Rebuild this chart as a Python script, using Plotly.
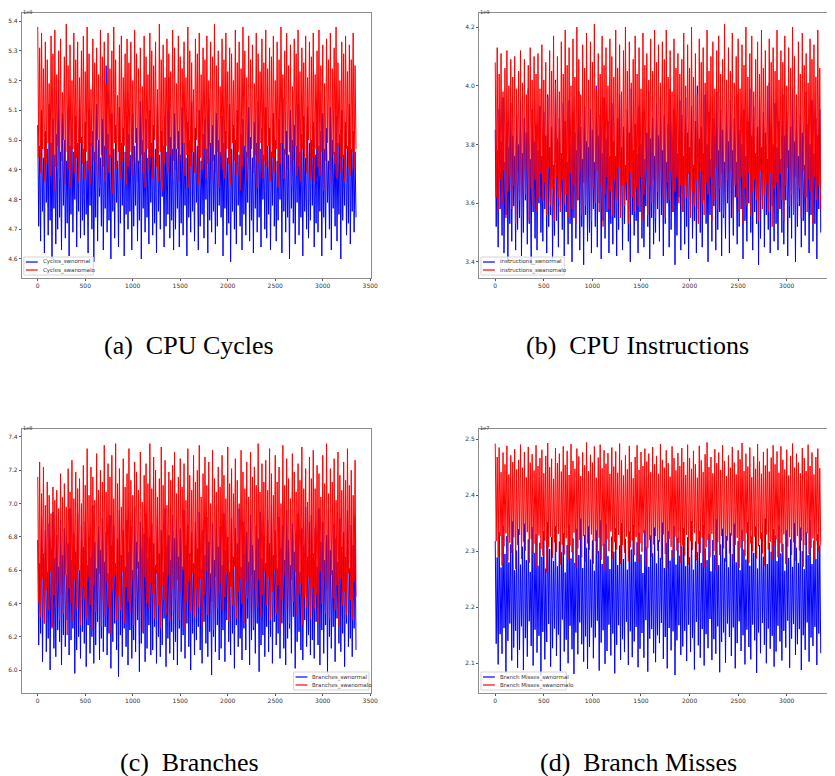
import plotly.graph_objects as go

# sample index step (every 10th sample of ~3345 samples)
sample_step = 10

# (a) CPU Cycles, in units of 1e7 (axis shows x1e9)
cycles_normal = [
505,471,498,466,510,476,494,462,503,479,497,468,512,473,499,460,507,477,495,465,502,470,520,474,496,463,509,478,500,467,493,472,511,461,498,475,504,469,496,480,508,464,499,476,514,467,501,473,
497,468,506,475,493,462,510,478,499,470,503,459,496,474,512,466,500,481,494,471,507,463,498,477,525,469,502,473,495,460,509,476,497,467,505,479,493,464,511,472,499,478,504,461,496,475,508,470,
502,476,495,463,509,471,498,478,504,466,493,473,513,460,500,477,496,469,507,474,494,465,510,479,499,468,505,472,497,462,512,476,495,470,503,481,498,464,508,471,496,475,521,467,501,473,497,463,
509,470,497,477,503,464,495,472,511,468,499,478,494,461,506,474,500,469,513,476,496,466,504,479,498,463,510,471,493,475,502,467,507,480,497,462,514,473,499,469,505,476,495,465,509,471,500,478,
496,474,508,461,499,477,503,468,494,472,512,459,497,476,505,470,500,465,510,478,495,471,502,463,507,475,498,468,496,479,511,466,501,473,494,462,506,477,499,469,513,474,497,464,504,480,495,470,
511,467,498,475,504,463,496,478,509,471,500,466,493,473,507,480,499,462,514,476,497,469,503,474,495,460,510,477,500,472,505,465,498,479,512,468,496,474,502,461,508,476,494,470,511,467,499,473,
500,478,506,464,495,472,513,469,498,476,503,461,509,474,497,467,504,479,493,470,511,463,500,477,496,471,508,466,499,475,502,460,510,473,495,478,506,468,498,472,512,465,497,476,503,469,496,474]
cycles_anomalo = [
538,494,531,489,536,497,524,486,533,492,527,499,519,488,535,495,529,483,537,491,522,498,530,487,534,493,516,500,528,485,539,496,525,490,532,484,520,497,536,489,527,494,533,486,521,499,530,492,
535,487,523,496,538,490,529,485,517,498,534,493,526,488,531,500,522,484,537,495,528,491,533,486,519,497,536,489,524,494,530,482,538,499,527,490,515,496,532,487,535,493,521,498,529,485,534,491,
526,496,533,488,520,493,537,499,529,486,524,492,531,495,518,489,535,484,528,497,522,490,536,494,530,487,525,500,533,491,517,486,539,496,527,483,532,492,521,498,534,489,529,495,523,487,537,493,
531,490,519,497,535,486,528,493,524,499,533,488,521,495,538,484,530,491,526,496,517,489,534,500,529,485,536,494,522,490,531,497,527,487,535,492,520,498,533,486,528,493,539,489,525,496,530,484,
518,495,534,490,527,487,536,497,523,492,531,485,529,499,520,493,537,488,526,496,533,483,524,491,538,498,530,486,521,494,535,490,527,497,532,489,519,495,536,484,529,492,523,499,534,487,526,493,
537,491,524,498,531,486,528,494,535,489,520,497,533,484,527,492,538,499,522,487,530,495,536,490,525,496,532,485,518,493,534,498,529,488,537,491,523,486,531,497,526,494,535,489,521,500,533,487,
528,494,536,486,522,497,530,491,537,488,525,496,532,483,519,493,534,499,527,490,536,485,524,495,531,492,538,487,526,498,520,489,533,494,529,486,535,497,523,491,532,488,527,496,536,490,525,497]

# (b) CPU Instructions, in units of 1e7 (axis shows x1e9)
instr_normal = [
385,352,378,345,392,358,381,349,396,343,374,356,388,340,379,353,394,347,383,359,376,344,390,351,380,355,395,342,377,350,389,361,384,346,399,353,375,339,392,357,381,348,387,344,378,360,393,350,
376,347,391,358,383,343,397,352,379,356,386,341,373,349,402,354,382,345,389,359,377,351,394,342,388,357,374,346,395,353,380,340,391,355,384,348,378,361,398,344,386,352,375,339,393,356,381,347,
379,350,392,343,385,358,374,352,400,345,383,360,390,341,377,354,396,348,382,357,388,343,376,353,394,346,381,355,376,342,389,351,397,359,379,344,386,353,373,361,392,347,384,340,399,356,378,349,
387,354,377,343,393,357,380,348,391,345,375,359,384,352,398,341,382,355,389,346,376,350,394,358,383,347,396,356,378,342,390,353,374,360,387,345,399,351,381,357,392,339,385,349,377,362,395,344,
390,357,376,346,396,352,384,341,379,360,393,348,373,354,388,343,400,358,382,350,386,345,377,361,397,353,380,340,391,356,375,347,389,359,383,344,398,351,378,357,392,342,385,355,374,348,394,360,
381,343,395,355,378,349,389,362,374,346,397,352,385,358,380,341,392,354,376,347,388,360,399,350,383,344,393,357,377,353,386,339,396,348,379,361,391,345,384,356,375,351,401,343,387,359,380,347,
394,353,379,344,388,358,375,350,397,346,383,361,391,342,378,355,386,348,399,357,381,340,393,352,376,359,390,345,384,354,373,349,398,362,387,343,380,356,395,347,377,353,389,341,383,358,392,350]
instr_anomalo = [
408,362,413,357,404,368,411,360,398,371,406,355,412,364,400,369,409,358,403,366,410,353,399,370,405,361,412,356,401,367,409,363,397,371,407,354,413,365,402,359,410,368,404,357,411,362,399,370,
414,361,402,367,408,356,396,372,412,359,405,365,417,354,401,369,410,362,398,357,415,368,404,360,419,363,407,355,413,370,400,358,416,366,403,353,420,361,409,371,397,356,414,367,406,359,418,363,
402,369,415,354,408,365,421,360,399,371,411,357,404,366,417,352,407,363,413,369,400,358,416,364,410,356,403,368,419,361,406,372,414,355,398,366,412,359,420,367,405,353,415,370,401,362,409,357,
417,365,404,359,413,369,399,354,418,363,407,371,411,356,402,366,416,360,405,368,419,355,408,364,414,358,401,370,415,362,409,355,419,367,403,361,412,371,398,357,416,364,406,369,411,360,404,366,
409,357,418,366,400,362,414,370,406,355,420,364,403,359,411,368,397,353,416,371,408,360,413,356,401,367,419,363,405,369,410,354,415,361,399,372,412,358,417,365,404,370,409,356,421,362,402,368,
413,360,405,371,418,355,401,366,410,362,416,357,399,369,414,353,407,365,420,359,403,370,411,356,417,364,398,368,409,361,415,354,404,371,419,358,406,363,412,367,400,357,416,370,408,352,413,365,
405,367,419,358,402,370,412,361,408,354,417,366,400,372,413,359,406,363,420,356,410,369,397,360,415,365,404,355,418,371,407,362,411,357,401,368,416,364,409,353,414,369,403,361,419,366,406,358]

# (c) Branches, in units of 1e6 (axis shows x1e8)
branch_normal = [
678,615,664,622,692,605,670,628,684,611,659,619,688,600,673,626,695,613,667,608,681,624,662,617,690,603,669,621,685,614,657,630,676,609,697,618,666,625,682,598,671,612,694,620,660,607,687,623,
674,616,689,602,663,627,680,610,668,620,699,604,677,615,661,629,686,606,672,619,691,611,665,626,683,609,658,622,693,601,675,617,687,628,664,612,679,596,696,621,669,608,684,625,662,614,690,603,
671,624,686,607,660,618,698,611,677,630,665,599,689,616,673,622,682,605,694,613,667,627,680,609,688,612,676,626,663,604,692,620,670,608,684,615,659,631,697,602,674,619,681,610,666,623,693,606,
679,617,691,603,668,625,685,611,662,621,696,607,675,628,687,614,670,600,683,622,664,609,689,618,673,626,695,612,661,604,684,629,669,616,692,608,677,623,658,597,688,620,666,611,698,627,674,606,
686,613,663,624,694,605,672,630,680,617,659,609,691,622,668,601,685,627,676,614,697,619,662,606,689,625,670,612,683,631,665,603,693,618,675,624,660,610,687,628,679,599,695,615,667,621,681,608,
664,626,690,611,676,620,699,604,669,629,684,615,661,622,692,607,673,628,687,613,666,603,696,619,678,625,663,610,688,632,671,601,682,617,694,623,659,612,685,606,675,630,698,614,668,621,689,609,
693,618,670,607,685,629,662,615,697,603,677,624,689,610,666,627,681,598,694,620,672,613,660,626,688,605,679,631,665,616,691,611,674,622,683,602,668,628,696,614,661,619,687,608,675,625,692,612]
branch_anomalo = [
716,641,725,632,706,655,722,628,699,648,713,636,705,659,694,625,710,645,702,638,708,652,697,630,718,646,704,634,712,657,698,621,721,649,707,640,726,629,703,654,719,637,709,660,715,627,700,650,
723,643,711,631,733,656,705,639,722,624,716,651,702,635,730,647,708,658,720,626,713,642,735,633,707,653,724,638,716,622,729,648,703,657,736,630,712,645,721,636,698,659,727,628,710,650,718,641,
733,634,714,655,705,627,725,644,719,661,708,632,731,649,701,623,717,656,724,640,712,637,736,652,709,646,728,631,720,658,704,639,715,625,734,651,711,642,726,633,699,657,719,629,714,648,723,636,
731,643,706,654,716,630,727,647,710,660,724,626,702,641,733,653,717,635,708,658,729,632,713,649,720,638,735,655,704,627,718,645,728,659,711,633,725,650,700,641,732,624,715,656,707,637,722,646,
710,652,729,636,717,644,703,658,734,629,712,650,721,639,706,662,727,631,714,647,700,655,732,640,719,628,709,653,725,643,704,635,731,657,716,626,722,648,711,638,736,654,707,632,724,645,713,659,
726,639,708,656,733,630,718,647,705,660,729,634,713,651,722,625,700,642,735,657,711,636,727,649,715,628,703,654,730,641,719,659,707,633,724,646,714,652,734,627,709,644,721,638,701,656,728,631,
715,650,732,637,709,645,723,628,718,659,704,640,729,653,712,634,736,648,706,631,721,657,713,643,727,636,702,651,731,626,717,655,708,639,725,647,714,633,733,658,711,642,720,630,705,653,726,644]

# (d) Branch Misses, in units of 1e4 (axis shows x1e7)
misses_normal = [
2318,2135,2289,2098,2334,2152,2271,2117,2346,2163,2295,2084,2327,2140,2280,2171,2312,2105,2353,2128,2266,2158,2301,2092,2339,2124,2276,2166,2308,2088,2349,2145,2284,2112,2321,2175,2263,2131,2343,2096,2297,2160,2330,2119,2274,2149,2315,2078,
2290,2156,2336,2107,2269,2138,2352,2170,2304,2094,2325,2127,2282,2162,2345,2113,2273,2151,2317,2086,2298,2178,2332,2121,2262,2142,2311,2100,2347,2167,2287,2125,2323,2081,2279,2155,2340,2116,2293,2173,2358,2134,2270,2103,2329,2148,2306,2090,
2344,2129,2285,2164,2319,2109,2265,2146,2337,2176,2300,2087,2355,2137,2277,2159,2313,2099,2348,2122,2291,2169,2268,2114,2326,2153,2299,2082,2341,2133,2275,2168,2310,2106,2350,2143,2286,2120,2322,2174,2267,2097,2335,2157,2303,2111,2347,2139,
2281,2165,2316,2093,2333,2126,2294,2154,2261,2110,2338,2177,2307,2085,2272,2144,2328,2161,2296,2118,2342,2102,2278,2150,2320,2136,2288,2172,2351,2108,2270,2147,2314,2091,2336,2163,2283,2123,2302,2157,2345,2079,2276,2141,2324,2168,2292,2115,
2309,2130,2341,2158,2273,2104,2325,2169,2289,2120,2354,2145,2267,2089,2317,2174,2298,2132,2336,2110,2279,2161,2347,2096,2305,2152,2284,2127,2331,2179,2264,2106,2320,2143,2293,2117,2357,2166,2275,2084,2312,2138,2340,2155,2287,2101,2327,2171,
2271,2147,2332,2113,2295,2164,2349,2091,2280,2136,2318,2175,2266,2122,2338,2150,2303,2098,2285,2160,2352,2129,2274,2107,2326,2169,2297,2141,2344,2083,2269,2155,2311,2118,2333,2172,2290,2133,2358,2100,2277,2162,2315,2126,2299,2149,2339,2094,
2328,2121,2282,2167,2346,2139,2296,2105,2313,2158,2265,2128,2337,2176,2288,2092,2321,2144,2272,2170,2350,2115,2306,2134,2279,2161,2342,2088,2300,2150,2268,2124,2334,2173,2293,2103,2355,2146,2277,2131,2319,2165,2286,2097,2330,2153,2310,2118]
misses_anomalo = [
2492,2318,2468,2290,2485,2327,2441,2274,2476,2309,2455,2332,2488,2283,2437,2315,2471,2297,2459,2325,2482,2268,2446,2311,2463,2329,2490,2286,2449,2317,2477,2301,2432,2334,2486,2279,2458,2322,2473,2295,2444,2313,2489,2271,2452,2328,2466,2304,
2481,2292,2439,2319,2470,2262,2493,2308,2450,2326,2465,2288,2429,2316,2484,2299,2457,2331,2474,2276,2442,2312,2487,2294,2454,2323,2479,2284,2436,2310,2491,2298,2461,2333,2447,2270,2483,2305,2469,2320,2434,2289,2476,2327,2453,2281,2494,2314,
2443,2302,2472,2330,2458,2278,2487,2318,2431,2296,2467,2324,2490,2285,2448,2309,2480,2266,2456,2321,2475,2300,2438,2335,2485,2287,2451,2316,2478,2303,2440,2329,2492,2277,2462,2311,2435,2297,2471,2326,2446,2282,2488,2307,2459,2319,2430,2293,
2468,2325,2489,2280,2445,2314,2477,2299,2452,2332,2483,2273,2460,2306,2474,2320,2441,2290,2486,2312,2455,2327,2470,2301,2438,2317,2491,2285,2463,2330,2449,2295,2480,2269,2457,2322,2433,2308,2487,2288,2466,2326,2444,2301,2475,2315,2452,2279,
2484,2310,2459,2292,2436,2329,2490,2276,2466,2318,2447,2302,2479,2333,2455,2284,2431,2313,2488,2297,2462,2324,2441,2271,2473,2307,2494,2320,2450,2289,2468,2331,2439,2300,2482,2265,2457,2316,2476,2293,2445,2327,2489,2305,2461,2281,2434,2319,
2471,2296,2449,2328,2486,2283,2458,2311,2437,2324,2480,2270,2464,2306,2493,2318,2443,2291,2474,2332,2451,2279,2485,2314,2432,2300,2469,2326,2447,2287,2491,2309,2460,2322,2438,2296,2477,2274,2453,2330,2483,2303,2442,2317,2467,2285,2489,2311,
2455,2321,2478,2289,2440,2314,2487,2298,2463,2330,2446,2277,2481,2308,2435,2325,2470,2293,2492,2316,2449,2283,2474,2327,2458,2301,2439,2319,2484,2272,2466,2311,2443,2332,2490,2295,2452,2306,2476,2323,2437,2286,2468,2318,2483,2299,2448,2310]

x_ticks = [0, 500, 1000, 1500, 2000, 2500, 3000, 3500]
panels = [
    dict(name="Cycles", normal=cycles_normal, anomalo=cycles_anomalo, div=100.0, exp="1e9",
         yr=[4.536, 5.427], ydt=0.1, caption="(a)\u00a0\u00a0CPU Cycles", legpos="ll", legw=70),
    dict(name="instructions", normal=instr_normal, anomalo=instr_anomalo, div=100.0, exp="1e9",
         yr=[3.345, 4.248], ydt=0.2, caption="(b)\u00a0\u00a0CPU Instructions", legpos="ll", legw=84),
    dict(name="Branches", normal=branch_normal, anomalo=branch_anomalo, div=100.0, exp="1e8",
         yr=[5.862, 7.448], ydt=0.2, caption="(c)\u00a0\u00a0Branches", legpos="lr", legw=76),
    dict(name="Branch Misses", normal=misses_normal, anomalo=misses_anomalo, div=1000.0, exp="1e7",
         yr=[2.047, 2.518], ydt=0.1, caption="(d)\u00a0\u00a0Branch Misses", legpos="ll", legw=86),
]

W, H = 835, 776
OFF = 8  # page offset of the figure (body margin)


def px(x):
    return (x - OFF) / W


def py(y):
    return 1 - (y - OFF) / H


# frame boxes in page pixels (left, right, top, bottom)
boxes = [(22, 374, 13, 278), (483, 843, 13, 278), (22, 374, 429, 693), (483, 843, 429, 693)]
caption_xy = [(191, 345), (643, 345), (191, 762), (644, 762)]

fig = go.Figure()
axis_font = dict(family="DejaVu Sans", size=6, color="#333333")
shapes = []
for i, (p, b) in enumerate(zip(panels, boxes)):
    k = "" if i == 0 else str(i + 1)
    xs = [j * sample_step for j in range(len(p["normal"]))]
    n1 = p["name"] + "_swnormal"
    n2 = p["name"] + "_swanomalo"
    fig.add_trace(go.Scatter(x=xs, y=[v / p["div"] for v in p["normal"]], mode="lines",
                             line=dict(color="#0000ff", width=1, simplify=False), name=n1,
                             xaxis="x" + k, yaxis="y" + k, showlegend=False))
    fig.add_trace(go.Scatter(x=xs, y=[v / p["div"] for v in p["anomalo"]], mode="lines",
                             line=dict(color="#ff0000", width=1, simplify=False), name=n2,
                             xaxis="x" + k, yaxis="y" + k, showlegend=False))
    l, r, t, bt = b
    xd = [px(l), min(px(r), 1.0)]
    yd = [py(bt), py(t)]
    common = dict(showgrid=False, zeroline=False, showline=True, linecolor="#8c8c8c", linewidth=1,
                  mirror=True, ticks="outside", ticklen=2, tickcolor="#555555", tickfont=axis_font)
    fig.update_layout(**{
        "xaxis" + k: dict(domain=xd, range=[-167, 3507], tickvals=x_ticks, anchor="y" + k, **common),
        "yaxis" + k: dict(domain=yd, range=p["yr"], dtick=p["ydt"], tickformat=".1f", anchor="x" + k, **common),
    })
    # offset (exponent) label, kept just inside the visible page area
    top_y = max(t - 5, OFF + 0.3)
    fig.add_annotation(x=px(l), y=py(top_y), xref="paper", yref="paper", text=p["exp"], showarrow=False,
                       xanchor="left", yanchor="top", borderpad=0,
                       font=dict(family="DejaVu Sans", size=5, color="#333333"))
    # caption
    cx, cy = caption_xy[i]
    fig.add_annotation(x=px(cx), y=py(cy), xref="paper", yref="paper",
                       text=p["caption"], showarrow=False, xanchor="center", yanchor="middle",
                       font=dict(family="Liberation Serif", size=26, color="#000000"))
    # compact legend box (matplotlib style)
    if p["legpos"] == "ll":
        bx0 = l + 2
        bx1 = bx0 + p["legw"]
    else:
        bx1 = 372
        bx0 = bx1 - p["legw"]
    by0, by1 = bt - 21, bt - 3
    shapes.append(dict(type="rect", xref="paper", yref="paper", x0=px(bx0), x1=px(bx1), y0=py(by1), y1=py(by0),
                       line=dict(color="#d5d5d5", width=1), fillcolor="rgba(255,255,255,0.8)", layer="above"))
    for j, (nm, col) in enumerate([(n1, "#0000ff"), (n2, "#ff0000")]):
        ly = by0 + 5 + j * 8
        shapes.append(dict(type="line", xref="paper", yref="paper", x0=px(bx0 + 2), x1=px(bx0 + 14),
                           y0=py(ly), y1=py(ly), line=dict(color=col, width=1.2), layer="above"))
        fig.add_annotation(x=px(bx0 + 17), y=py(ly), xref="paper", yref="paper", text=nm, showarrow=False,
                           xanchor="left", yanchor="middle",
                           font=dict(family="DejaVu Sans", size=5.5, color="#333333"))

fig.update_layout(width=W, height=H, margin=dict(l=0, r=0, t=0, b=0), paper_bgcolor="white",
                  plot_bgcolor="white", showlegend=False, shapes=shapes)
fig.write_html("out.html")
